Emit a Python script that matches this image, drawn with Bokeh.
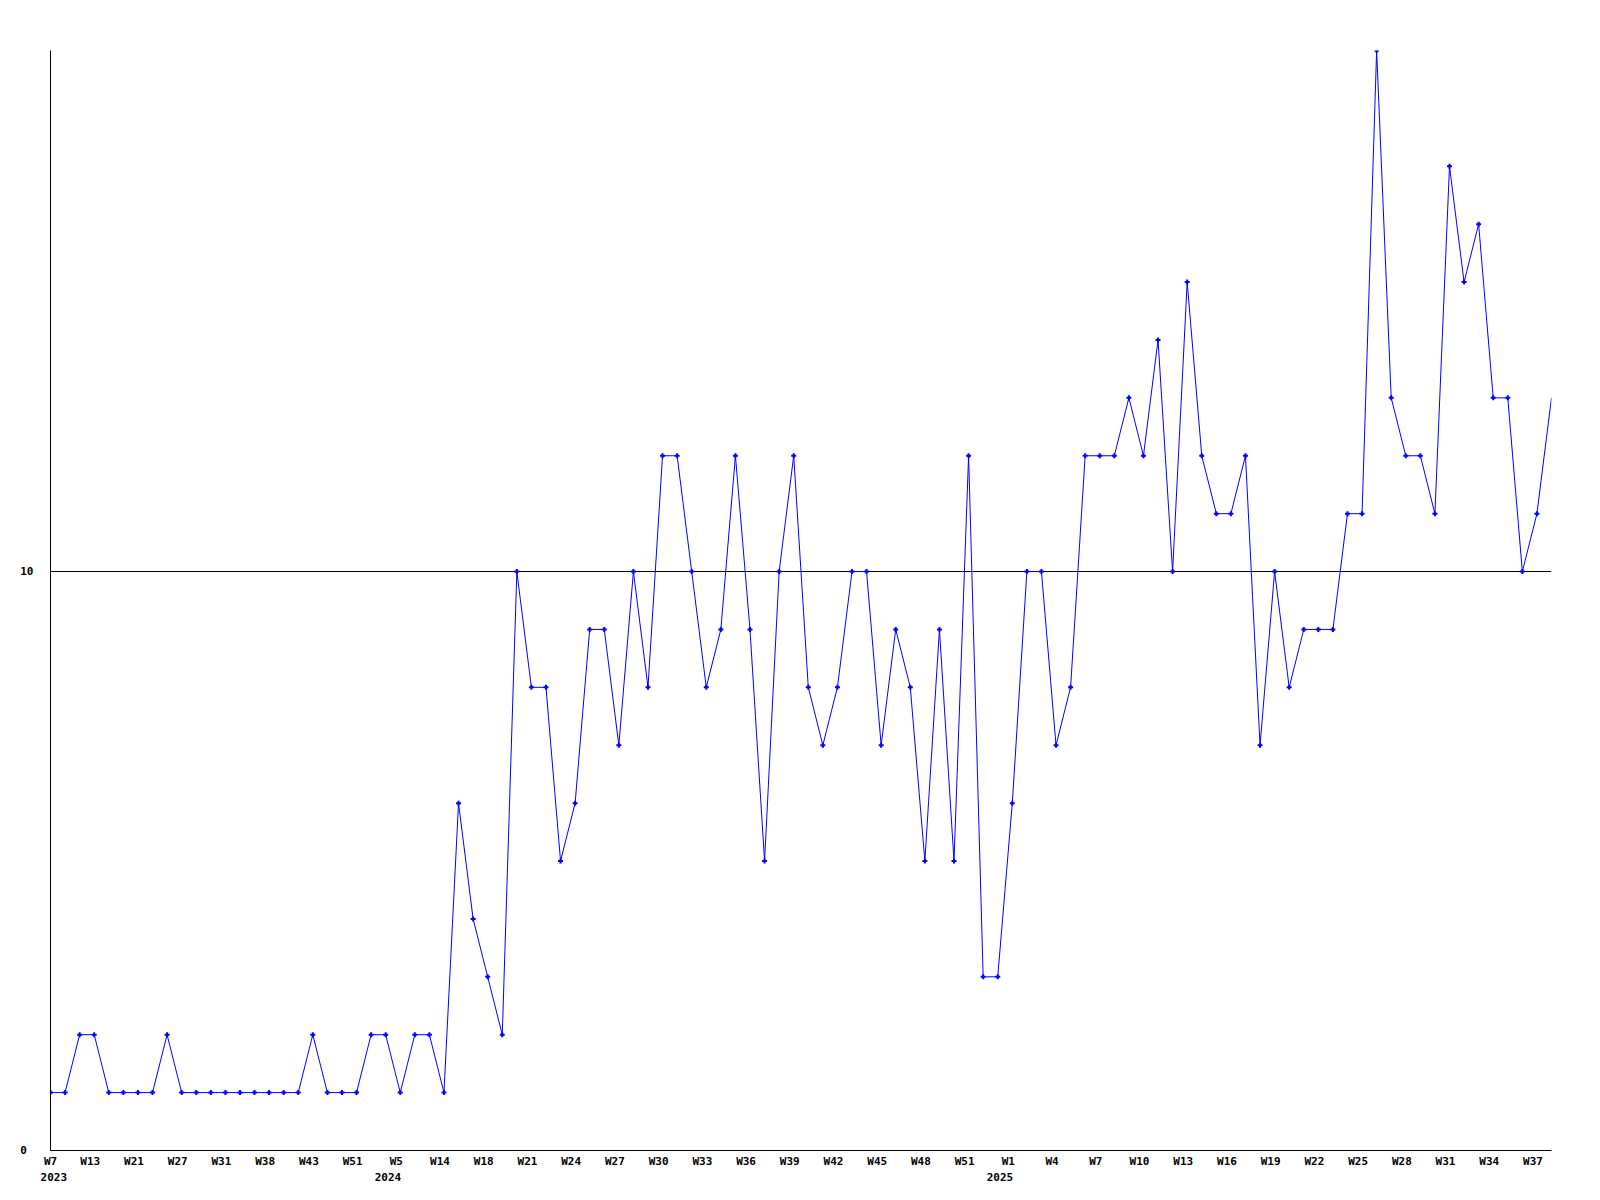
from bokeh.plotting import figure
from bokeh.models import FixedTicker, CustomJSTickFormatter, LinearAxis, Range1d
from bokeh.embed import file_html
from bokeh.resources import INLINE

# ---- data -------------------------------------------------------------
VALUES = [1, 1, 2, 2, 1, 1, 1, 1, 2, 1,
          1, 1, 1, 1, 1, 1, 1, 1, 2, 1,
          1, 1, 2, 2, 1, 2, 2, 1, 6, 4,
          3, 2, 10, 8, 8, 5, 6, 9, 9, 7,
          10, 8, 12, 12, 10, 8, 9, 12, 9, 5,
          10, 12, 8, 7, 8, 10, 10, 7, 9, 8,
          5, 9, 5, 12, 3, 3, 6, 10, 10, 7,
          8, 12, 12, 12, 13, 12, 14, 10, 15, 12,
          11, 11, 12, 7, 10, 8, 9, 9, 9, 11,
          11, 19, 13, 12, 12, 11, 17, 15, 16, 13,
          13, 10, 11, 13]

# week labels shown at every 3rd point
WEEK_LABELS = ["W7", "W13", "W21", "W27", "W31", "W38", "W43", "W51", "W5",
               "W14", "W18", "W21", "W24", "W27", "W30", "W33", "W36", "W39",
               "W42", "W45", "W48", "W51", "W1", "W4", "W7", "W10", "W13",
               "W16", "W19", "W22", "W25", "W28", "W31", "W34", "W37"]
LABEL_STEP = 3

YEAR_LABELS = ["2023", "2024", "2025"]
YEAR_POINT = [0, 24, 66]          # point index where each year starts

Y_TICKS = [0, 10]

# ---- figure -----------------------------------------------------------
n = len(VALUES)
xs = list(range(n))

FONT = "DejaVu Sans Mono"
BLUE = "#0000ff"

p = figure(width=1592, height=1192,
           x_range=Range1d(0, n - 1), y_range=Range1d(0, 19),
           output_backend="svg", toolbar_location=None,
           min_border_left=50, min_border_right=41,
           min_border_top=50, min_border_bottom=42)

p.background_fill_color = "white"
p.border_fill_color = "white"
p.outline_line_color = None

# data line and markers (last point has no marker in the reference)
p.line(xs, VALUES, line_color=BLUE, line_width=1)
p.scatter(xs[:-1], VALUES[:-1], marker="cross", size=5,
          line_color=BLUE, line_width=2)

# ---- y axis -----------------------------------------------------------
ya = p.yaxis[0]
ya.ticker = FixedTicker(ticks=Y_TICKS)
ya.major_label_overrides = {0: "0\u00a0", 10: "10"}
ya.major_tick_out = 0
ya.major_tick_in = 0
ya.minor_tick_out = 0
ya.minor_tick_in = 0
ya.axis_line_color = "black"
ya.major_label_standoff = 17
ya.major_label_text_font = FONT
ya.major_label_text_font_style = "bold"
ya.major_label_text_font_size = "11px"
ya.major_label_text_color = "black"

p.ygrid.ticker = FixedTicker(ticks=[10])
p.ygrid.grid_line_color = "black"
p.ygrid.grid_line_alpha = 1.0
p.ygrid.grid_line_width = 1
p.xgrid.visible = False

# ---- x axis (weeks) ---------------------------------------------------
WEEK_SHIFT = 0.27
week_ticks = [max(0.0, i * LABEL_STEP - WEEK_SHIFT) for i in range(len(WEEK_LABELS))]
xa = p.xaxis[0]
xa.ticker = FixedTicker(ticks=week_ticks)
xa.formatter = CustomJSTickFormatter(
    args=dict(labels=WEEK_LABELS, step=LABEL_STEP, shift=WEEK_SHIFT),
    code="return labels[Math.round((tick + shift) / step)];")
xa.major_tick_out = 0
xa.major_tick_in = 0
xa.minor_tick_out = 0
xa.minor_tick_in = 0
xa.axis_line_color = "black"
xa.major_label_standoff = 4
xa.major_label_text_font = FONT
xa.major_label_text_font_style = "bold"
xa.major_label_text_font_size = "11px"
xa.major_label_text_color = "black"

# ---- second row: years -----------------------------------------------
year_shift = [-0.23, 0.84, 0.85]
year_ticks = [YEAR_POINT[k] - year_shift[k] for k in range(len(YEAR_POINT))]
ya2 = LinearAxis(ticker=FixedTicker(ticks=year_ticks),
                 formatter=CustomJSTickFormatter(args=dict(years=YEAR_LABELS),
                                                 code="return years[index];"))
ya2.axis_line_color = None
ya2.major_tick_out = 0
ya2.major_tick_in = 0
ya2.minor_tick_out = 0
ya2.minor_tick_in = 0
ya2.major_label_standoff = 2
ya2.major_label_text_font = FONT
ya2.major_label_text_font_style = "bold"
ya2.major_label_text_font_size = "11px"
ya2.major_label_text_color = "black"
p.add_layout(ya2, "below")

open("out.html", "w").write(file_html(p, INLINE))
